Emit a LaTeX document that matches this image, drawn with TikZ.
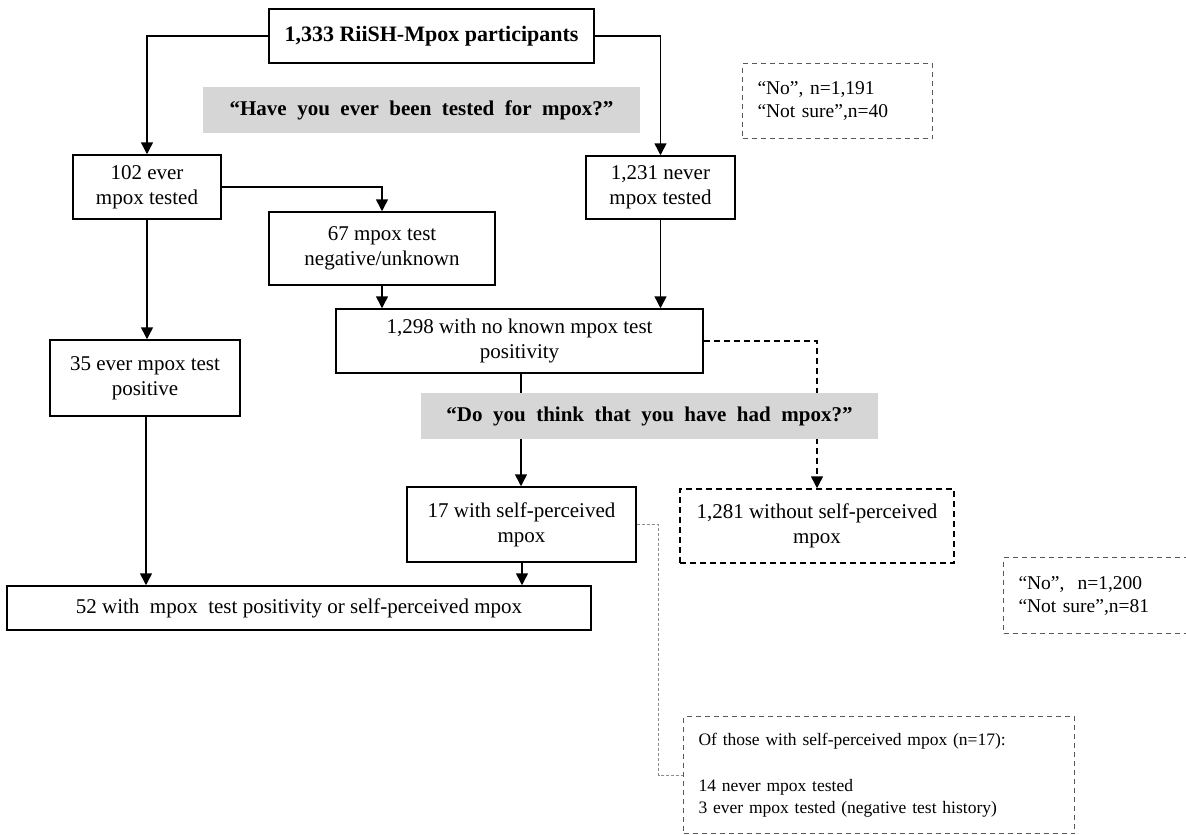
\documentclass[tikz,border=0pt]{standalone}
\usepackage{fontspec}
\setmainfont{Liberation Serif}
\usetikzlibrary{arrows.meta,backgrounds,calc}
\begin{document}
\begin{tikzpicture}[x=1pt,y=-1pt,
  box/.style={draw=black, line width=1.5pt, align=center, inner sep=0pt,
    font=\fontsize{21}{25}\selectfont},
  band/.style={fill=black!16, inner sep=0pt,
    font=\fontsize{21}{24}\selectfont\bfseries},
  note/.style={draw=black!65, dash pattern=on 5pt off 4pt, line width=1pt,
    align=left, inner xsep=15pt, inner ysep=0pt,
    font=\fontsize{19.5}{23}\selectfont},
  conn/.style={line width=1.5pt, -{Triangle[length=12pt,width=12pt]}},
  dconn/.style={line width=1.5pt, dash pattern=on 6pt off 4pt,
    -{Triangle[length=12pt,width=12pt]}},
  lconn/.style={line width=0.8pt, draw=black!45, dash pattern=on 3pt off 2pt},
]
\useasboundingbox (0,0) rectangle (1186,835);

% main boxes
\node[box, minimum width=325pt, minimum height=54pt, font=\fontsize{22}{26}\selectfont\bfseries]
  (top) at (431.5,36) {1,333 RiiSH-Mpox participants};
\node[band, minimum width=437pt, minimum height=46pt] (q1) at (421.5,110)
  {“Have\ \ you\ \ ever\ \ been\ \ tested\ \ for\ \ mpox?”};
\node[note, minimum width=190pt, minimum height=75pt, anchor=north west, text width=160pt]
  (d1) at (742,63) {“No”, n=1,191\\“Not sure”,n=40};
\node[box, minimum width=148pt, minimum height=64pt] (b102) at (147,187)
  {102 ever\\mpox tested};
\node[box, minimum width=149pt, minimum height=63pt] (b1231) at (660.5,187.5)
  {1,231 never\\mpox tested};
\node[box, minimum width=226pt, minimum height=73pt] (b67) at (382,248.5)
  {67 mpox test\\negative/unknown};
\node[box, minimum width=367pt, minimum height=64pt] (b1298) at (519.5,341)
  {1,298 with no known mpox test\\positivity};
\node[box, minimum width=190pt, minimum height=76pt] (b35) at (145,378)
  {35 ever mpox test\\positive};
\node[box, minimum width=229pt, minimum height=75pt] (b17) at (521.5,524.5)
  {17 with self-perceived\\mpox};
\node[box, minimum width=274pt, minimum height=74pt, dash pattern=on 6pt off 4pt]
  (b1281) at (817,526) {1,281 without self-perceived\\mpox};
\node[box, minimum width=584pt, minimum height=44pt] (b52) at (299,608)
  {52 with\ \ mpox\ \ test positivity or self-perceived mpox};
\node[note, minimum width=230pt, minimum height=76pt, anchor=north west, text width=200pt]
  (d2) at (1003,557) {“No”,\ \ n=1,200\\“Not sure”,n=81};
\node[note, minimum width=391pt, minimum height=117pt, anchor=north west,
  text width=361pt, font=\fontsize{17.5}{22}\selectfont] (d3) at (683,716)
  {Of those with self-perceived mpox (n=17):\\[24pt]14 never mpox tested\\3 ever mpox tested (negative test history)};

\begin{pgfonlayer}{background}
  \draw[conn] (top.west) -| (b102.north);
  \draw[conn] (top.east) -| (b1231.north);
  \draw[conn] (b102.east) -| (b67.north);
  \draw[conn] (b67.south) -- (b67.south |- b1298.north);
  \draw[conn] (b1231.south) -- (b1231.south |- b1298.north);
  \draw[conn] (b102.south) -- (b102.south |- b35.north);
  \draw[conn] ([xshift=1pt]b35.south) -- ([xshift=1pt]b35.south |- b52.north);
  \draw[conn] ([xshift=1.5pt]b1298.south) -- ([xshift=1.5pt]b1298.south |- b17.north);
  \draw[conn] ([xshift=0.5pt]b17.south) -- ([xshift=0.5pt]b17.south |- b52.north);
  \draw[dconn] (b1298.east) -| (b1281.north);
  \draw[lconn] (b17.east) -- ++(22,0) |- (d3.west);
\end{pgfonlayer}
\node[band, minimum width=457pt, minimum height=46pt] (q2) at (649.5,416)
  {“Do\ \ you\ \ think\ \ that\ \ you\ \ have\ \ had\ \ mpox?”};
\end{tikzpicture}
\end{document}
